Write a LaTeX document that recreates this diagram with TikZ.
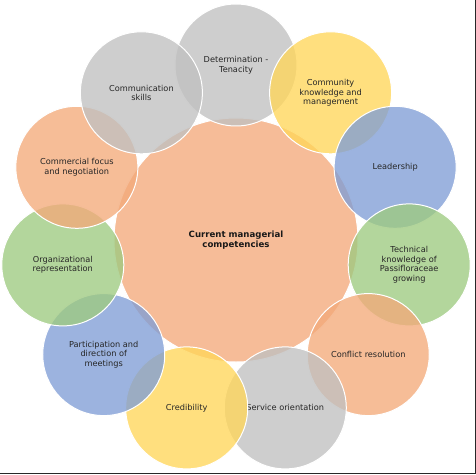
\documentclass[tikz,border=0pt]{standalone}
\usepackage{fontspec}
\setmainfont{DejaVu Sans}
\usepackage{tikz}
\usetikzlibrary{shapes.geometric, positioning, calc}
\definecolor{compGris}{RGB}{192, 192, 192}
\definecolor{compAmarillo}{RGB}{255, 214, 90}
\definecolor{compAzul}{RGB}{128, 158, 214}
\definecolor{compVerde}{RGB}{158, 202, 128}
\definecolor{compNaranja}{RGB}{243, 170, 122}
\definecolor{compCentro}{RGB}{246, 188, 152}
\definecolor{compMarco}{RGB}{40, 40, 40}

\begin{document}
\begin{tikzpicture}[x=1pt, y=1pt,
    competencia/.style={circle, draw=white, line width=1pt, minimum size=122pt,
        inner sep=0pt, align=center, fill opacity=0.78, text opacity=1,
        text=black!85, font=\fontsize{8.2}{9.6}\selectfont},
    nucleo/.style={circle, draw=white, line width=1pt, fill=compCentro,
        minimum size=244pt, align=center, font=\bfseries\fontsize{8.6}{10}\selectfont}]
    \useasboundingbox (-236,-234) rectangle (240,240);
    % borde inferior y derecho
    \draw[compMarco, line width=1.5pt] (-236,-233.3) -- (239.3,-233.3) -- (239.3,240);
    % circulo central
    \node[nucleo] (centro) at (0,0) {};
    % competencias, en sentido horario desde arriba
    \node[competencia, fill=compGris] (determinacion) at (90:175) {Determination -\\Tenacity};
    \node[competencia, fill=compAmarillo] (comunidad) at (57.27:175) {Community\\knowledge and\\management};
    \node[competencia, fill=compAzul] (liderazgo) at (24.55:175) {Leadership};
    \node[competencia, fill=compVerde] (tecnico) at (-8.18:175) {Technical\\knowledge of\\Passifloraceae\\growing};
    \node[competencia, fill=compNaranja] (conflicto) at (-40.91:175) {Conflict resolution};
    \node[competencia, fill=compGris] (servicio) at (-73.64:175) {Service orientation};
    \node[competencia, fill=compAmarillo] (credibilidad) at (-106.36:175) {Credibility};
    \node[competencia, fill=compAzul] (reuniones) at (-139.09:175) {Participation and\\direction of\\meetings};
    \node[competencia, fill=compVerde] (representacion) at (-171.82:175) {Organizational\\representation};
    \node[competencia, fill=compNaranja] (comercial) at (155.45:175) {Commercial focus\\and negotiation};
    \node[competencia, fill=compGris] (comunicacion) at (122.73:175) {Communication\\skills};
    \node[font=\bfseries\fontsize{8.6}{10}\selectfont, align=center, text=black!90] (titulo) at (centro) {Current managerial\\competencies};
\end{tikzpicture}
\end{document}
